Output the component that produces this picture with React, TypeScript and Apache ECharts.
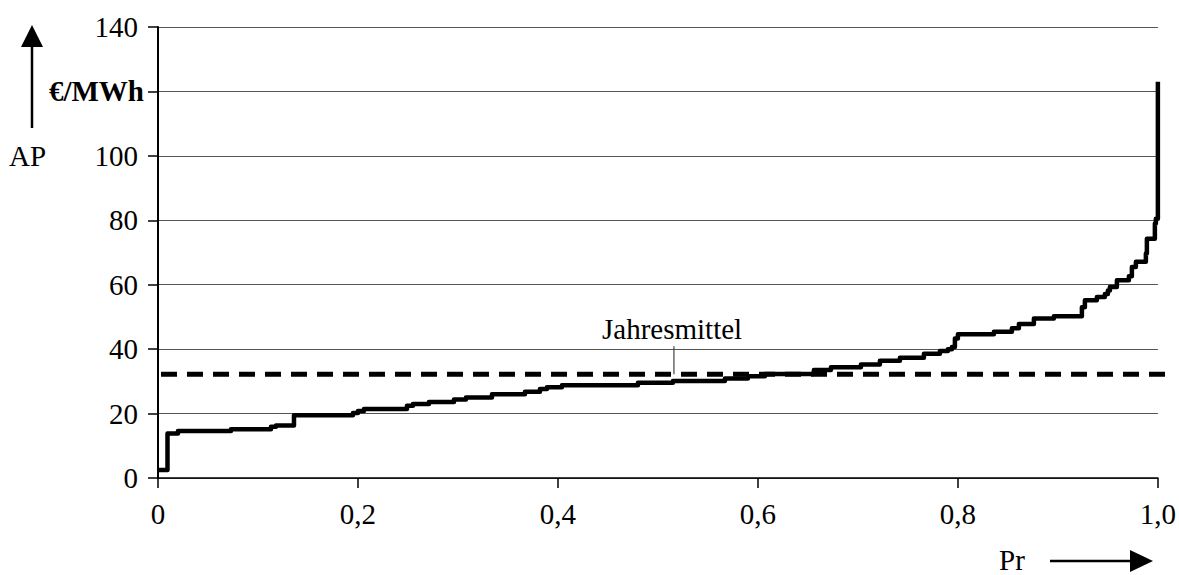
import React, { useEffect, useRef } from "react";
import * as echarts from "echarts";

// Price duration curve: start probability of each price level and the level (€/MWh)
const probLevels = [
  0, 0.0095, 0.02, 0.073, 0.113, 0.118, 0.136, 0.195, 0.2, 0.206, 0.249, 0.255, 0.271,
  0.296, 0.308, 0.334, 0.367, 0.382, 0.389, 0.404, 0.48, 0.515, 0.567, 0.59, 0.607,
  0.656, 0.673, 0.703, 0.722, 0.742, 0.766, 0.782, 0.79, 0.794, 0.797, 0.8, 0.836,
  0.854, 0.861, 0.876, 0.896, 0.924, 0.927, 0.939, 0.947, 0.95, 0.952, 0.959, 0.971,
  0.974, 0.978, 0.988, 0.989, 0.997, 0.998, 1.0,
];
const priceLevels = [
  2.5, 13.8, 14.6, 15.1, 15.9, 16.3, 19.5, 20.2, 20.8, 21.4, 22.4, 23.0, 23.6,
  24.4, 25.0, 26.0, 26.8, 27.6, 28.2, 28.8, 29.6, 30.1, 30.9, 31.6, 32.3,
  33.5, 34.4, 35.2, 36.4, 37.3, 38.6, 39.4, 40.0, 40.7, 43.3, 44.6, 45.4,
  46.5, 47.8, 49.5, 50.2, 53.0, 55.2, 56.2, 57.1, 58.2, 59.3, 61.4, 62.6,
  65.5, 67.1, 69.7, 74.3, 79.0, 80.5, 123.0,
];
const annualMean = 32.2;
const meanLabel = "Jahresmittel";
const meanLabelProb = 0.516;
const meanLabelTop = 40.9;
const xTickValues = [0, 0.2, 0.4, 0.6, 0.8, 1.0];
const xTickLabels = ["0", "0,2", "0,4", "0,6", "0,8", "1,0"];
const yUnitLabel = "€/MWh";
const yUnitTick = 120;
const yAxisName = "AP";
const xAxisName = "Pr";

const FONT = '"Liberation Serif", "Times New Roman", serif';
const FS = 29;

export default function App() {
  const ref = useRef<HTMLDivElement>(null);
  useEffect(() => {
    if (!ref.current) return;
    const chart = echarts.init(ref.current, null, { renderer: "svg" });
    const curve = probLevels.map((p, i) => [p, priceLevels[i]]);
    chart.setOption({
      animation: false,
      backgroundColor: "#ffffff",
      textStyle: { fontFamily: FONT },
      grid: [
        { left: 158, right: 18, top: 27, bottom: 97 },
        { left: 161, right: 7, top: 27, bottom: 97 },
      ],
      xAxis: [
        {
          type: "value",
          gridIndex: 0,
          min: 0,
          max: 1,
          interval: 0.2,
          axisLine: { show: true, lineStyle: { color: "#000", width: 1.5 } },
          axisTick: { show: true, length: 10, inside: false, lineStyle: { color: "#000", width: 1.5 } },
          splitLine: { show: false },
          axisLabel: {
            color: "#000",
            fontFamily: FONT,
            fontSize: FS,
            margin: 21,
            formatter: (v: number) => {
              const idx = xTickValues.findIndex((t) => Math.abs(t - v) < 1e-6);
              return idx >= 0 ? xTickLabels[idx] : "";
            },
          },
        },
        {
          type: "value",
          gridIndex: 1,
          min: 0,
          max: 1,
          show: false,
        },
      ],
      yAxis: [
        {
          type: "value",
          gridIndex: 0,
          min: 0,
          max: 140,
          interval: 20,
          axisLine: { show: true, lineStyle: { color: "#000", width: 2 } },
          axisTick: { show: true, length: 10, lineStyle: { color: "#000", width: 1.5 } },
          splitLine: { show: true, lineStyle: { color: "#555", width: 1 } },
          axisLabel: {
            color: "#000",
            fontFamily: FONT,
            fontSize: FS,
            margin: 20,
            formatter: (v: number) => (v === yUnitTick ? "{u|" + yUnitLabel + "}" : String(v)),
            rich: {
              u: { fontFamily: FONT, fontSize: FS, fontWeight: "bold", color: "#000", padding: [0, -6, 0, 0] },
            },
          },
        },
        {
          type: "value",
          gridIndex: 1,
          min: 0,
          max: 140,
          show: false,
        },
      ],
      series: [
        {
          type: "line",
          xAxisIndex: 1,
          yAxisIndex: 1,
          data: [
            [0, annualMean],
            [1, annualMean],
          ],
          symbol: "none",
          lineStyle: { color: "#000", width: 5, type: [16, 10] },
          z: 3,
        },
        {
          type: "line",
          xAxisIndex: 0,
          yAxisIndex: 0,
          data: [
            [meanLabelProb, annualMean],
            [meanLabelProb, meanLabelTop],
          ],
          symbol: "none",
          lineStyle: { color: "#444", width: 1.2 },
          z: 2,
        },
        {
          type: "line",
          xAxisIndex: 0,
          yAxisIndex: 0,
          data: curve,
          step: "end",
          symbol: "none",
          lineStyle: { color: "#000", width: 4.5, join: "round" },
          z: 4,
        },
      ],
      graphic: [
        {
          type: "text",
          left: 602,
          top: 314,
          style: { text: meanLabel, font: `${FS}px ${FONT}`, fill: "#000" },
        },
        {
          type: "text",
          left: 9,
          top: 141,
          style: { text: yAxisName, font: `${FS}px ${FONT}`, fill: "#000" },
        },
        {
          type: "text",
          left: 999,
          top: 545,
          style: { text: xAxisName, font: `${FS}px ${FONT}`, fill: "#000" },
        },
        {
          type: "line",
          shape: { x1: 32, y1: 128, x2: 32, y2: 44 },
          style: { stroke: "#000", lineWidth: 2.5 },
        },
        {
          type: "polygon",
          shape: { points: [[21, 47], [43, 47], [32, 25]] },
          style: { fill: "#000" },
        },
        {
          type: "line",
          shape: { x1: 1050, y1: 561, x2: 1133, y2: 561 },
          style: { stroke: "#000", lineWidth: 2.5 },
        },
        {
          type: "polygon",
          shape: { points: [[1130, 550], [1130, 572], [1153, 561]] },
          style: { fill: "#000" },
        },
      ],
    });
    return () => chart.dispose();
  }, []);
  return (
    <div
      ref={ref}
      style={{ position: "fixed", left: 0, top: 0, width: 1179, height: 575, background: "#fff" }}
    />
  );
}
